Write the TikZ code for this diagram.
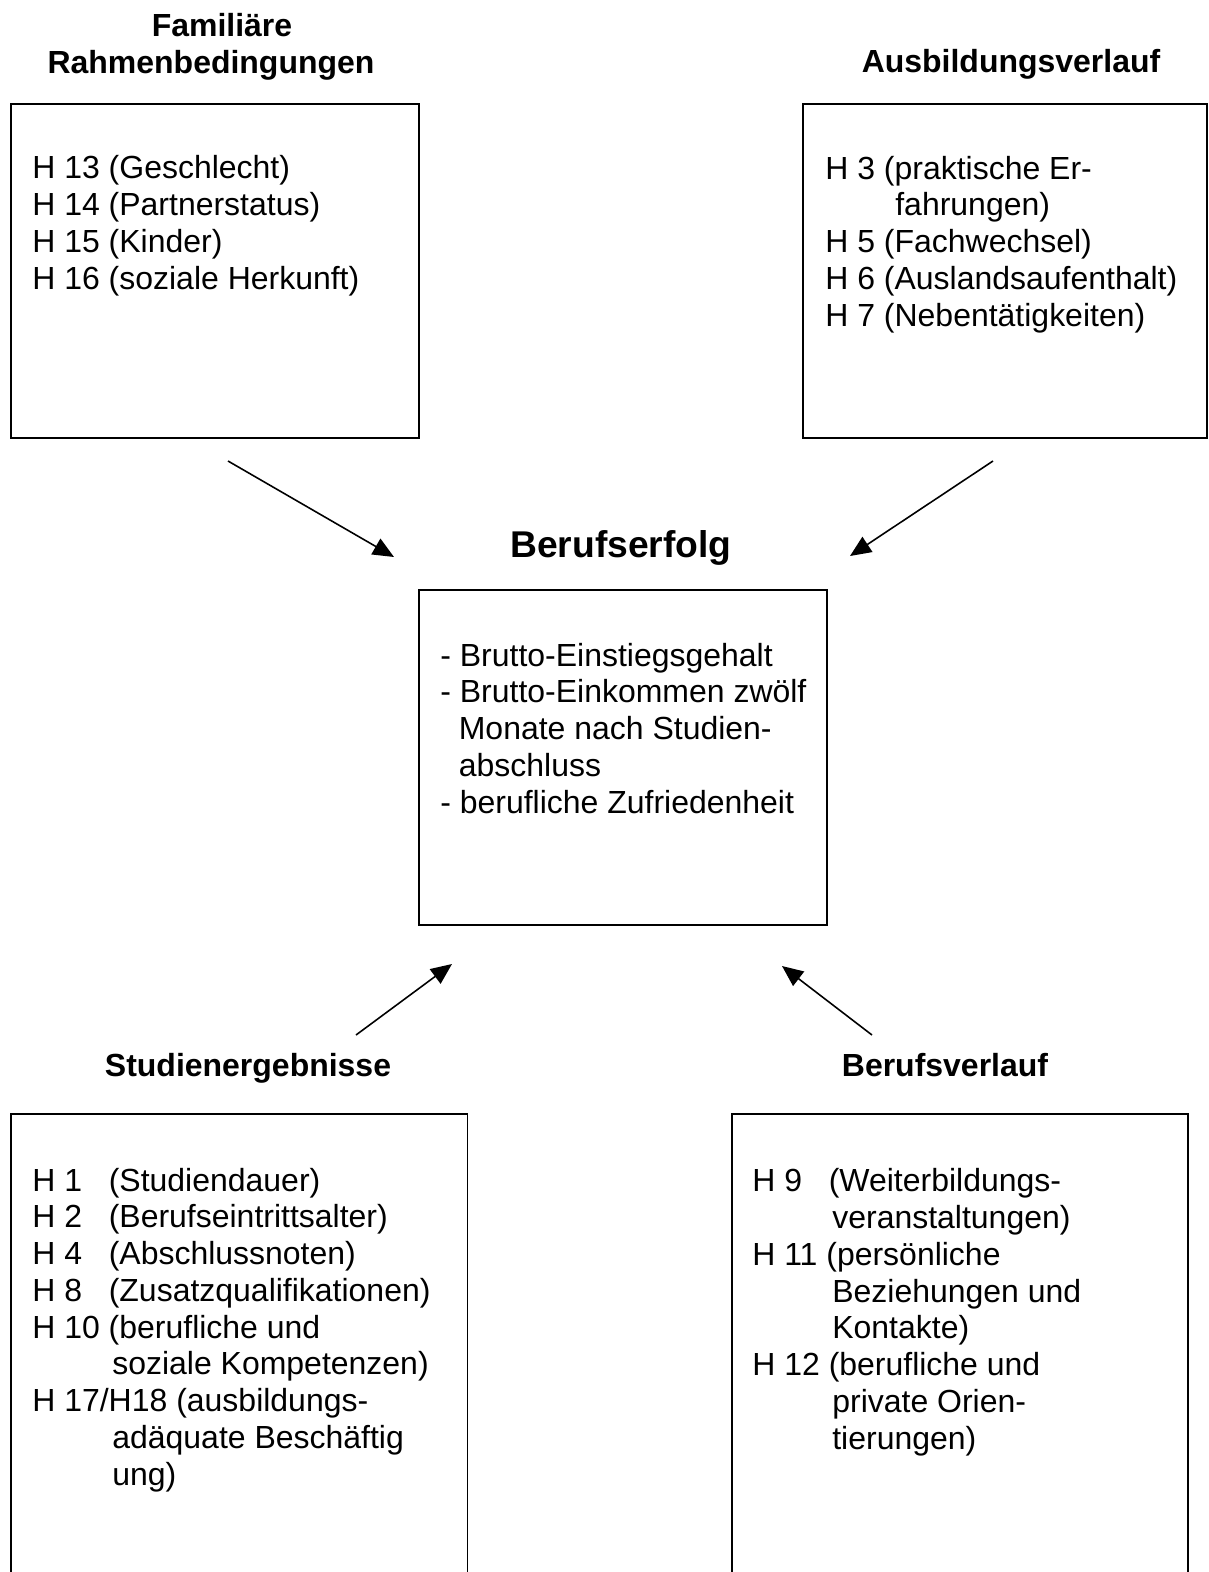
\documentclass[tikz,border=0pt]{standalone}
\usepackage{fontspec}
\setmainfont{Liberation Sans}
\usetikzlibrary{positioning,arrows.meta}

\newcommand{\hnum}[1]{\makebox[1.53cm][l]{#1}}
\newcommand{\hcont}{\hspace*{1.6cm}}

\begin{document}
\begin{tikzpicture}[x=0.02cm, y=-0.02cm,
    box/.style={draw, line width=0.9pt, rectangle, anchor=north west, inner sep=0pt},
    body/.style={anchor=base west, align=left, inner sep=0pt, font=\fontsize{18.2}{20.9}\selectfont},
    head/.style={anchor=base, align=center, inner sep=0pt, font=\fontsize{18.2}{20.9}\selectfont\bfseries},
    arr/.style={-{Triangle[length=0.42cm, width=0.36cm]}, line width=0.9pt}]
    \useasboundingbox (0,0) rectangle (1209,1572);
    \clip (0,0) rectangle (1209,1572);

    % text nodes are placed at the baseline of their last line

    % Familiäre Rahmenbedingungen
    \node[head] (famtitle) at (211,73) {\hspace*{0.44cm}Familiäre\\Rahmenbedingungen};
    \node[box, minimum width=8.16cm, minimum height=6.68cm] (fambox) at (10,103) {};
    \node[body] (famtext) at (32,289)
        {H 13 (Geschlecht)\\ H 14 (Partnerstatus)\\ H 15 (Kinder)\\ H 16 (soziale Herkunft)};

    % Ausbildungsverlauf
    \node[head] (ausbtitle) at (1011,72) {Ausbildungsverlauf};
    \node[box, minimum width=8.08cm, minimum height=6.68cm] (ausbbox) at (802,103) {};
    \node[body] (ausbtext) at (825,326)
        {H 3 (praktische Er-\\ \hspace*{1.4cm}fahrungen)\\ H 5 (Fachwechsel)\\
         H 6 (Auslandsaufenthalt)\\ H 7 (Nebentätigkeiten)};

    % Berufserfolg
    \node[head, font=\fontsize{21.2}{24}\selectfont\bfseries] (erfolgtitle) at (621,557) {Berufserfolg};
    \node[box, minimum width=8.16cm, minimum height=6.7cm] (erfolgbox) at (418,589) {};
    \node[body] (erfolgtext) at (440,813)
        {- Brutto-Einstiegsgehalt\\ - Brutto-Einkommen zwölf\\
         \hspace*{0.37cm}Monate nach Studien-\\ \hspace*{0.37cm}abschluss\\
         - berufliche Zufriedenheit};

    % Studienergebnisse
    \node[head] (studtitle) at (248,1076) {Studienergebnisse};
    \node[box, minimum width=9.14cm, minimum height=10cm] (studbox) at (10,1113) {};
    \node[body] (studtext) at (32,1485)
        {\hnum{H 1}(Studiendauer)\\ \hnum{H 2}(Berufseintrittsalter)\\
         \hnum{H 4}(Abschlussnoten)\\ \hnum{H 8}(Zusatzqualifikationen)\\
         H 10 (berufliche und\\ \hcont soziale Kompetenzen)\\
         H 17/H18 (ausbildungs-\\ \hcont adäquate Beschäftig\\ \hcont ung)};

    % Berufsverlauf
    \node[head] (verlauftitle) at (945,1076) {Berufsverlauf};
    \node[box, minimum width=9.12cm, minimum height=10cm] (verlaufbox) at (731,1113) {};
    \node[body] (verlauftext) at (752,1449)
        {\hnum{H 9}(Weiterbildungs-\\ \hcont veranstaltungen)\\
         H 11 (persönliche\\ \hcont Beziehungen und\\ \hcont Kontakte)\\
         H 12 (berufliche und\\ \hcont private Orien-\\ \hcont tierungen)};

    % arrows towards Berufserfolg
    \coordinate (famfrom) at (228,461);
    \coordinate (famto) at (394,557);
    \coordinate (ausbfrom) at (993,461);
    \coordinate (ausbto) at (850,556);
    \coordinate (studfrom) at (356,1035);
    \coordinate (studto) at (452,964);
    \coordinate (verlauffrom) at (872,1035);
    \coordinate (verlaufto) at (782,966);

    \draw[arr] (famfrom) -- (famto);
    \draw[arr] (ausbfrom) -- (ausbto);
    \draw[arr] (studfrom) -- (studto);
    \draw[arr] (verlauffrom) -- (verlaufto);
\end{tikzpicture}
\end{document}
